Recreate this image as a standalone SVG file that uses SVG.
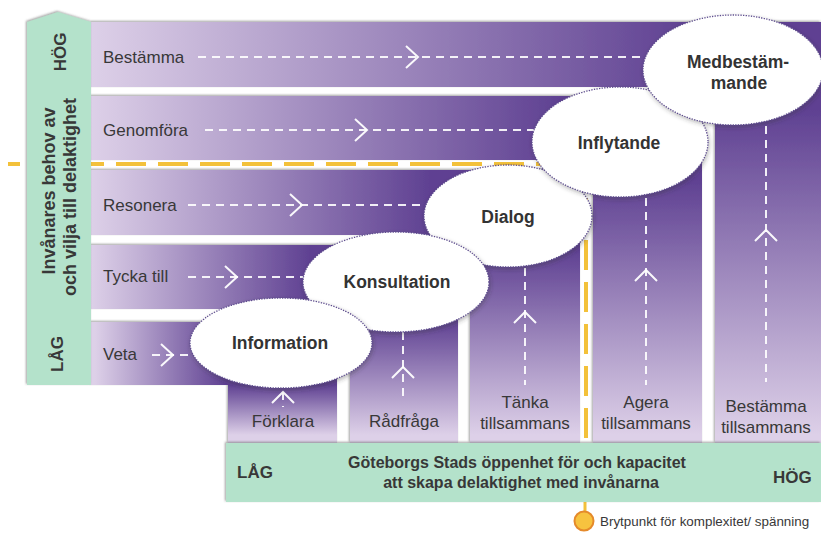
<svg xmlns="http://www.w3.org/2000/svg" width="821" height="534" viewBox="0 0 821 534">
<style>
.lbl{font-family:"Liberation Sans",Arial,sans-serif;font-size:17px;fill:#383838}
.b{font-weight:bold}
.mid{text-anchor:middle}
.el{fill:#fff;stroke:#5e4d8e;stroke-width:1.3;stroke-dasharray:1.3 1.3}
.elt{font-family:"Liberation Sans",Arial,sans-serif;font-size:17.5px;font-weight:bold;fill:#333;text-anchor:middle}
.dash{stroke:#fff;stroke-width:2;stroke-dasharray:8 6;fill:none;opacity:0.9}
.chev{stroke:#fff;stroke-width:2;fill:none;opacity:0.95}
.green{fill:#b4e2cb}
</style>
<defs>
<linearGradient id="gr1" gradientUnits="userSpaceOnUse" x1="91" y1="0" x2="690" y2="0"><stop offset="0" stop-color="#ddd0e8"/><stop offset="1" stop-color="#5f4192"/></linearGradient>
<linearGradient id="gr2" gradientUnits="userSpaceOnUse" x1="91" y1="0" x2="560" y2="0"><stop offset="0" stop-color="#ddd0e8"/><stop offset="1" stop-color="#5f4192"/></linearGradient>
<linearGradient id="gr3" gradientUnits="userSpaceOnUse" x1="91" y1="0" x2="430" y2="0"><stop offset="0" stop-color="#ddd0e8"/><stop offset="1" stop-color="#5f4192"/></linearGradient>
<linearGradient id="gr4" gradientUnits="userSpaceOnUse" x1="91" y1="0" x2="310" y2="0"><stop offset="0" stop-color="#ddd0e8"/><stop offset="1" stop-color="#5f4192"/></linearGradient>
<linearGradient id="gr5" gradientUnits="userSpaceOnUse" x1="95" y1="0" x2="225" y2="0"><stop offset="0" stop-color="#ddd0e8"/><stop offset="1" stop-color="#5f4192"/></linearGradient>
<linearGradient id="gc1" gradientUnits="userSpaceOnUse" x1="0" y1="385" x2="0" y2="435"><stop offset="0" stop-color="#5f4192"/><stop offset="1" stop-color="#ddd0e8"/></linearGradient>
<linearGradient id="gc2" gradientUnits="userSpaceOnUse" x1="0" y1="320" x2="0" y2="435"><stop offset="0" stop-color="#5f4192"/><stop offset="1" stop-color="#ddd0e8"/></linearGradient>
<linearGradient id="gc3" gradientUnits="userSpaceOnUse" x1="0" y1="250" x2="0" y2="435"><stop offset="0" stop-color="#5f4192"/><stop offset="1" stop-color="#ddd0e8"/></linearGradient>
<linearGradient id="gc4" gradientUnits="userSpaceOnUse" x1="0" y1="180" x2="0" y2="435"><stop offset="0" stop-color="#5f4192"/><stop offset="1" stop-color="#ddd0e8"/></linearGradient>
<linearGradient id="gc5" gradientUnits="userSpaceOnUse" x1="0" y1="110" x2="0" y2="435"><stop offset="0" stop-color="#5f4192"/><stop offset="1" stop-color="#ddd0e8"/></linearGradient>
<filter id="bsh" x="-5%" y="-5%" width="110%" height="110%"><feDropShadow dx="-1" dy="-1" stdDeviation="1.3" flood-color="#555" flood-opacity="0.55"/></filter>
<filter id="esh" x="-10%" y="-10%" width="125%" height="130%"><feDropShadow dx="1" dy="2" stdDeviation="2" flood-color="#333" flood-opacity="0.35"/></filter>
</defs>
<rect width="821" height="534" fill="#fff"/>

<!-- bands -->
<g id="bands" filter="url(#bsh)">
<rect x="91" y="22" width="730" height="65" fill="url(#gr1)"/>
<rect x="715" y="86" width="106" height="357" fill="url(#gc5)"/>
<rect x="91" y="96" width="611" height="64" fill="url(#gr2)"/>
<rect x="593" y="159" width="109" height="284" fill="url(#gc4)"/>
<rect x="91" y="170" width="489" height="65" fill="url(#gr3)"/>
<rect x="470" y="234" width="110" height="209" fill="url(#gc3)"/>
<rect x="91" y="245" width="367" height="64" fill="url(#gr4)"/>
<rect x="350" y="308" width="108" height="135" fill="url(#gc2)"/>
<rect x="91" y="322" width="246" height="63" fill="url(#gr5)"/>
<rect x="228" y="384" width="109" height="59" fill="url(#gc1)"/>
</g>

<!-- connectors -->
<g id="connectors">
<path class="dash" d="M198,57 H650"/>
<path class="chev" d="M406,46 L418,57 L406,68"/>
<path class="dash" d="M205,130 H535"/>
<path class="chev" d="M355,119 L367,130 L355,141"/>
<path class="dash" d="M188,205 H428"/>
<path class="chev" d="M290,194 L302,205 L290,216"/>
<path class="dash" d="M188,277 H308"/>
<path class="chev" d="M225,266 L237,277 L225,288"/>
<path class="dash" d="M152,355 H192"/>
<path class="chev" d="M161,344 L173,355 L161,366"/>
<path class="dash" d="M283,392 V407"/>
<path class="chev" d="M272,403 L283,392 L294,403"/>
<path class="dash" d="M403,332 V402"/>
<path class="chev" d="M392,378 L403,367 L414,378"/>
<path class="dash" d="M525,268 V385"/>
<path class="chev" d="M514,323 L525,312 L536,323"/>
<path class="dash" d="M646,198 V385"/>
<path class="chev" d="M635,281 L646,270 L657,281"/>
<path class="dash" d="M766,126 V382"/>
<path class="chev" d="M755,241 L766,230 L777,241"/>
<path d="M8,164 H586 V443" fill="none" stroke="#f3c13a" stroke-width="4" stroke-dasharray="30 12" stroke-dashoffset="18"/>
<path d="M585,502 V513" fill="none" stroke="#f3c13a" stroke-width="3"/>
</g>

<!-- left axis bar -->
<g id="axis-left">
<path class="green" d="M27,22 L58,12 L91,22 L91,385 L27,385 Z" filter="url(#bsh)"/>
<text class="lbl b mid" transform="translate(66,52) rotate(-90)">HÖG</text>
<text class="lbl b mid" transform="translate(63,354) rotate(-90)">LÅG</text>
<text class="lbl b mid" style="font-size:18px" transform="translate(55,191) rotate(-90)">Invånares behov av</text>
<text class="lbl b mid" style="font-size:18px" transform="translate(76,197) rotate(-90)">och vilja till delaktighet</text>
</g>

<!-- ellipse nodes -->
<g id="dialog"><ellipse class="el" cx="508" cy="216" rx="84" ry="51" filter="url(#esh)"/><text class="elt" x="508" y="223">Dialog</text></g>
<g id="inflytande"><ellipse class="el" cx="620" cy="142" rx="88" ry="55" filter="url(#esh)"/><text class="elt" x="619" y="149">Inflytande</text></g>
<g id="medbestammande"><ellipse class="el" cx="733" cy="70" rx="90" ry="55" filter="url(#esh)"/><text class="elt" x="738" y="68">Medbestäm-</text><text class="elt" x="739" y="89">mande</text></g>
<g id="konsultation"><ellipse class="el" cx="396" cy="282" rx="93" ry="50" filter="url(#esh)"/><text class="elt" x="397" y="288">Konsultation</text></g>
<g id="information"><ellipse class="el" cx="281" cy="343" rx="91" ry="45" filter="url(#esh)"/><text class="elt" x="280" y="349">Information</text></g>

<!-- row labels -->
<g id="row-bestamma"><text class="lbl" x="103" y="63">Bestämma</text></g>
<g id="row-genomfora"><text class="lbl" x="103" y="136">Genomföra</text></g>
<g id="row-resonera"><text class="lbl" x="103" y="211">Resonera</text></g>
<g id="row-tycka"><text class="lbl" x="103" y="282">Tycka till</text></g>
<g id="row-veta"><text class="lbl" x="103" y="360">Veta</text></g>

<!-- column labels -->
<g id="col-forklara"><text class="lbl mid" x="283" y="427">Förklara</text></g>
<g id="col-radfraga"><text class="lbl mid" x="404" y="427">Rådfråga</text></g>
<g id="col-tanka"><text class="lbl mid" x="525" y="408">Tänka</text><text class="lbl mid" x="525" y="429">tillsammans</text></g>
<g id="col-agera"><text class="lbl mid" x="646" y="408">Agera</text><text class="lbl mid" x="646" y="429">tillsammans</text></g>
<g id="col-bestamma"><text class="lbl mid" x="766" y="412">Bestämma</text><text class="lbl mid" x="766" y="433">tillsammans</text></g>

<!-- bottom axis bar -->
<g id="axis-bottom">
<rect class="green" x="226" y="443" width="595" height="59" filter="url(#bsh)"/>
<text class="lbl b" x="237" y="478">LÅG</text>
<text class="lbl b" x="773" y="483">HÖG</text>
<text class="lbl b mid" style="font-size:16px" x="517" y="468">Göteborgs Stads öppenhet för och kapacitet</text>
<text class="lbl b mid" style="font-size:16px" x="521" y="488">att skapa delaktighet med invånarna</text>
</g>

<!-- legend -->
<g id="legend">
<circle cx="584" cy="521" r="9.5" fill="#f7c33f" stroke="#e58a2b" stroke-width="2"/>
<text class="lbl" style="font-size:13.4px" x="600" y="526">Brytpunkt för komplexitet/ spänning</text>
</g>
</svg>
